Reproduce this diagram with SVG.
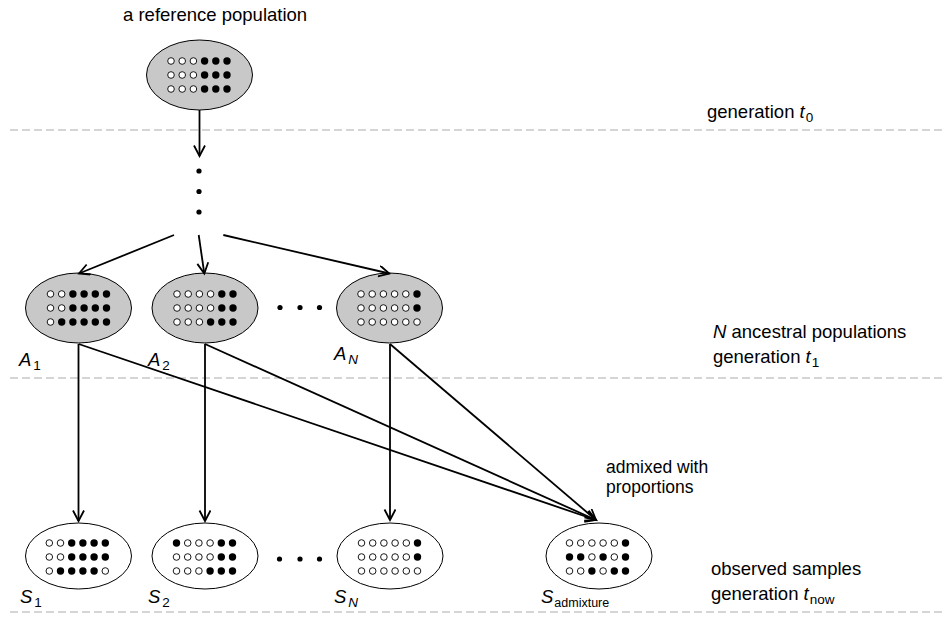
<svg xmlns="http://www.w3.org/2000/svg" width="944" height="617" viewBox="0 0 944 617">
<style>
text { font-family: "Liberation Sans", Arial, sans-serif; font-size: 18.5px; fill: #000; }
.it { font-style: italic; }
.sub { font-size: 13.5px; }
.gray { fill: #c8c8c8; stroke: #000; stroke-width: 1; }
.white { fill: #fff; stroke: #000; stroke-width: 1; }
.w { fill: #fff; stroke: #000; stroke-width: 0.9; }
.b { fill: #000; }
.dash { stroke: #c8c8c8; stroke-width: 1.5; stroke-dasharray: 8 4; fill: none; }
.conn line { stroke: #000; stroke-width: 1.8; marker-end: url(#arr); }
.pt { fill: #000; }
</style>
<defs>
<marker id="arr" markerWidth="14" markerHeight="14" refX="11" refY="6" orient="auto" markerUnits="userSpaceOnUse">
<path d="M0.5,0.5 L11,6 L0.5,11.5" fill="none" stroke="#000" stroke-width="1.8"/>
</marker>
</defs>

<g id="dashed-lines">
<line class="dash" x1="10" y1="130" x2="944" y2="130"/>
<line class="dash" x1="10" y1="378" x2="944" y2="378"/>
<line class="dash" x1="10" y1="612" x2="944" y2="612"/>
</g>

<g id="reference">
<text x="123" y="21">a reference population</text>
<ellipse class="gray" cx="199.5" cy="75" rx="53" ry="35"/>
<circle class="w" cx="171" cy="61" r="3.3"/><circle class="w" cx="182.2" cy="61" r="3.3"/><circle class="w" cx="193.4" cy="61" r="3.3"/><circle class="b" cx="204.6" cy="61" r="3.7"/><circle class="b" cx="215.8" cy="61" r="3.7"/><circle class="b" cx="227" cy="61" r="3.7"/>
<circle class="w" cx="171" cy="75" r="3.3"/><circle class="w" cx="182.2" cy="75" r="3.3"/><circle class="w" cx="193.4" cy="75" r="3.3"/><circle class="b" cx="204.6" cy="75" r="3.7"/><circle class="b" cx="215.8" cy="75" r="3.7"/><circle class="b" cx="227" cy="75" r="3.7"/>
<circle class="w" cx="171" cy="89" r="3.3"/><circle class="w" cx="182.2" cy="89" r="3.3"/><circle class="w" cx="193.4" cy="89" r="3.3"/><circle class="b" cx="204.6" cy="89" r="3.7"/><circle class="b" cx="215.8" cy="89" r="3.7"/><circle class="b" cx="227" cy="89" r="3.7"/>
</g>

<g id="vdots">
<circle class="pt" cx="199" cy="171" r="2.6"/>
<circle class="pt" cx="199" cy="191.5" r="2.6"/>
<circle class="pt" cx="199" cy="212" r="2.6"/>
</g>

<g id="A1">
<ellipse class="gray" cx="78.5" cy="308" rx="53" ry="35"/>
<circle class="w" cx="50.5" cy="294" r="3.3"/><circle class="w" cx="61.7" cy="294" r="3.3"/><circle class="b" cx="72.9" cy="294" r="3.7"/><circle class="b" cx="84.1" cy="294" r="3.7"/><circle class="b" cx="95.3" cy="294" r="3.7"/><circle class="b" cx="106.5" cy="294" r="3.7"/>
<circle class="w" cx="50.5" cy="308" r="3.3"/><circle class="w" cx="61.7" cy="308" r="3.3"/><circle class="b" cx="72.9" cy="308" r="3.7"/><circle class="b" cx="84.1" cy="308" r="3.7"/><circle class="b" cx="95.3" cy="308" r="3.7"/><circle class="b" cx="106.5" cy="308" r="3.7"/>
<circle class="w" cx="50.5" cy="322" r="3.3"/><circle class="b" cx="61.7" cy="322" r="3.7"/><circle class="b" cx="72.9" cy="322" r="3.7"/><circle class="b" cx="84.1" cy="322" r="3.7"/><circle class="b" cx="95.3" cy="322" r="3.7"/><circle class="b" cx="106.5" cy="322" r="3.7"/>
<text x="19" y="366"><tspan class="it">A</tspan><tspan class="sub" dx="2" dy="4">1</tspan></text>
</g>

<g id="A2">
<ellipse class="gray" cx="205" cy="308" rx="53" ry="35"/>
<circle class="w" cx="177" cy="294" r="3.3"/><circle class="w" cx="188.2" cy="294" r="3.3"/><circle class="w" cx="199.4" cy="294" r="3.3"/><circle class="w" cx="210.6" cy="294" r="3.3"/><circle class="b" cx="221.8" cy="294" r="3.7"/><circle class="b" cx="233" cy="294" r="3.7"/>
<circle class="w" cx="177" cy="308" r="3.3"/><circle class="w" cx="188.2" cy="308" r="3.3"/><circle class="w" cx="199.4" cy="308" r="3.3"/><circle class="w" cx="210.6" cy="308" r="3.3"/><circle class="b" cx="221.8" cy="308" r="3.7"/><circle class="b" cx="233" cy="308" r="3.7"/>
<circle class="w" cx="177" cy="322" r="3.3"/><circle class="w" cx="188.2" cy="322" r="3.3"/><circle class="w" cx="199.4" cy="322" r="3.3"/><circle class="b" cx="210.6" cy="322" r="3.7"/><circle class="b" cx="221.8" cy="322" r="3.7"/><circle class="b" cx="233" cy="322" r="3.7"/>
<text x="148" y="366"><tspan class="it">A</tspan><tspan class="sub" dx="2" dy="4">2</tspan></text>
</g>

<g id="hdots-A">
<circle class="pt" cx="280" cy="307.5" r="2.6"/>
<circle class="pt" cx="300" cy="307.5" r="2.6"/>
<circle class="pt" cx="319.5" cy="307.5" r="2.6"/>
</g>

<g id="AN">
<ellipse class="gray" cx="389.5" cy="308" rx="53" ry="35"/>
<circle class="w" cx="361" cy="294" r="3.3"/><circle class="w" cx="372.2" cy="294" r="3.3"/><circle class="w" cx="383.4" cy="294" r="3.3"/><circle class="w" cx="394.6" cy="294" r="3.3"/><circle class="w" cx="405.8" cy="294" r="3.3"/><circle class="b" cx="417" cy="294" r="3.7"/>
<circle class="w" cx="361" cy="308" r="3.3"/><circle class="w" cx="372.2" cy="308" r="3.3"/><circle class="w" cx="383.4" cy="308" r="3.3"/><circle class="w" cx="394.6" cy="308" r="3.3"/><circle class="w" cx="405.8" cy="308" r="3.3"/><circle class="b" cx="417" cy="308" r="3.7"/>
<circle class="w" cx="361" cy="322" r="3.3"/><circle class="w" cx="372.2" cy="322" r="3.3"/><circle class="w" cx="383.4" cy="322" r="3.3"/><circle class="w" cx="394.6" cy="322" r="3.3"/><circle class="w" cx="405.8" cy="322" r="3.3"/><circle class="w" cx="417" cy="322" r="3.3"/>
<text x="334" y="360"><tspan class="it">A</tspan><tspan class="sub it" dx="2" dy="4">N</tspan></text>
</g>

<g id="S1">
<ellipse class="white" cx="78.5" cy="556" rx="53" ry="33"/>
<circle class="w" cx="49.3" cy="543" r="3.3"/><circle class="w" cx="60.5" cy="543" r="3.3"/><circle class="b" cx="71.7" cy="543" r="3.7"/><circle class="b" cx="82.9" cy="543" r="3.7"/><circle class="b" cx="94.1" cy="543" r="3.7"/><circle class="b" cx="105.3" cy="543" r="3.7"/>
<circle class="w" cx="49.3" cy="557" r="3.3"/><circle class="w" cx="60.5" cy="557" r="3.3"/><circle class="b" cx="71.7" cy="557" r="3.7"/><circle class="b" cx="82.9" cy="557" r="3.7"/><circle class="b" cx="94.1" cy="557" r="3.7"/><circle class="b" cx="105.3" cy="557" r="3.7"/>
<circle class="w" cx="49.3" cy="571" r="3.3"/><circle class="b" cx="60.5" cy="571" r="3.7"/><circle class="b" cx="71.7" cy="571" r="3.7"/><circle class="b" cx="82.9" cy="571" r="3.7"/><circle class="b" cx="94.1" cy="571" r="3.7"/><circle class="w" cx="105.3" cy="571" r="3.3"/>
<text x="20" y="603"><tspan class="it">S</tspan><tspan class="sub" dx="2" dy="4">1</tspan></text>
</g>

<g id="S2">
<ellipse class="white" cx="205" cy="556" rx="53" ry="33"/>
<circle class="b" cx="176.5" cy="543" r="3.7"/><circle class="w" cx="187.7" cy="543" r="3.3"/><circle class="w" cx="198.9" cy="543" r="3.3"/><circle class="w" cx="210.1" cy="543" r="3.3"/><circle class="b" cx="221.3" cy="543" r="3.7"/><circle class="b" cx="232.5" cy="543" r="3.7"/>
<circle class="w" cx="176.5" cy="557" r="3.3"/><circle class="w" cx="187.7" cy="557" r="3.3"/><circle class="w" cx="198.9" cy="557" r="3.3"/><circle class="w" cx="210.1" cy="557" r="3.3"/><circle class="b" cx="221.3" cy="557" r="3.7"/><circle class="b" cx="232.5" cy="557" r="3.7"/>
<circle class="w" cx="176.5" cy="571" r="3.3"/><circle class="w" cx="187.7" cy="571" r="3.3"/><circle class="w" cx="198.9" cy="571" r="3.3"/><circle class="b" cx="210.1" cy="571" r="3.7"/><circle class="b" cx="221.3" cy="571" r="3.7"/><circle class="b" cx="232.5" cy="571" r="3.7"/>
<text x="148" y="603"><tspan class="it">S</tspan><tspan class="sub" dx="2" dy="4">2</tspan></text>
</g>

<g id="hdots-S">
<circle class="pt" cx="279.5" cy="559" r="2.6"/>
<circle class="pt" cx="300" cy="559" r="2.6"/>
<circle class="pt" cx="319.5" cy="559" r="2.6"/>
</g>

<g id="SN">
<ellipse class="white" cx="390" cy="556" rx="53" ry="33"/>
<circle class="w" cx="361.5" cy="543" r="3.3"/><circle class="w" cx="372.7" cy="543" r="3.3"/><circle class="w" cx="383.9" cy="543" r="3.3"/><circle class="w" cx="395.1" cy="543" r="3.3"/><circle class="w" cx="406.3" cy="543" r="3.3"/><circle class="b" cx="417.5" cy="543" r="3.7"/>
<circle class="w" cx="361.5" cy="557" r="3.3"/><circle class="w" cx="372.7" cy="557" r="3.3"/><circle class="w" cx="383.9" cy="557" r="3.3"/><circle class="w" cx="395.1" cy="557" r="3.3"/><circle class="w" cx="406.3" cy="557" r="3.3"/><circle class="b" cx="417.5" cy="557" r="3.7"/>
<circle class="w" cx="361.5" cy="571" r="3.3"/><circle class="w" cx="372.7" cy="571" r="3.3"/><circle class="w" cx="383.9" cy="571" r="3.3"/><circle class="w" cx="395.1" cy="571" r="3.3"/><circle class="w" cx="406.3" cy="571" r="3.3"/><circle class="w" cx="417.5" cy="571" r="3.3"/>
<text x="334" y="603"><tspan class="it">S</tspan><tspan class="sub it" dx="2" dy="4">N</tspan></text>
</g>

<g id="Sadmixture">
<ellipse class="white" cx="599" cy="556" rx="53" ry="33"/>
<circle class="w" cx="569.5" cy="543" r="3.3"/><circle class="w" cx="580.7" cy="543" r="3.3"/><circle class="w" cx="591.9" cy="543" r="3.3"/><circle class="w" cx="603.1" cy="543" r="3.3"/><circle class="w" cx="614.3" cy="543" r="3.3"/><circle class="b" cx="625.5" cy="543" r="3.7"/>
<circle class="b" cx="569.5" cy="557" r="3.7"/><circle class="b" cx="580.7" cy="557" r="3.7"/><circle class="w" cx="591.9" cy="557" r="3.3"/><circle class="b" cx="603.1" cy="557" r="3.7"/><circle class="w" cx="614.3" cy="557" r="3.3"/><circle class="b" cx="625.5" cy="557" r="3.7"/>
<circle class="w" cx="569.5" cy="571" r="3.3"/><circle class="w" cx="580.7" cy="571" r="3.3"/><circle class="b" cx="591.9" cy="571" r="3.7"/><circle class="w" cx="603.1" cy="571" r="3.3"/><circle class="b" cx="614.3" cy="571" r="3.7"/><circle class="b" cx="625.5" cy="571" r="3.7"/>
<text x="541" y="603"><tspan class="it">S</tspan><tspan class="sub" dx="1" dy="4" style="font-size:12.5px">admixture</tspan></text>
</g>

<g id="labels">
<text x="707" y="118">generation <tspan class="it">t</tspan><tspan class="sub" dx="1" dy="4">0</tspan></text>
<text x="713" y="338"><tspan class="it">N</tspan> ancestral populations</text>
<text x="713" y="363">generation <tspan class="it">t</tspan><tspan class="sub" dx="1" dy="4">1</tspan></text>
<text x="711" y="575">observed samples</text>
<text x="711" y="600">generation <tspan class="it">t</tspan><tspan class="sub" dx="1" dy="4">now</tspan></text>
<text x="606" y="473" style="font-size:17.5px">admixed with</text>
<text x="606" y="493" style="font-size:17.5px">proportions</text>
</g>

<g id="connectors" class="conn">
<line x1="199.5" y1="110" x2="199.5" y2="156"/>
<line x1="174" y1="235" x2="79" y2="273.5"/>
<line x1="198.7" y1="235" x2="204.3" y2="273.5"/>
<line x1="223.3" y1="235" x2="389.3" y2="273.5"/>
<line x1="78.5" y1="344" x2="78.5" y2="521"/>
<line x1="205" y1="344" x2="205" y2="521"/>
<line x1="390" y1="344" x2="390" y2="520"/>
<line x1="78.7" y1="344" x2="596" y2="520"/>
<line x1="205" y1="344" x2="596" y2="520"/>
<line x1="390" y1="344" x2="596" y2="520"/>
</g>
</svg>
